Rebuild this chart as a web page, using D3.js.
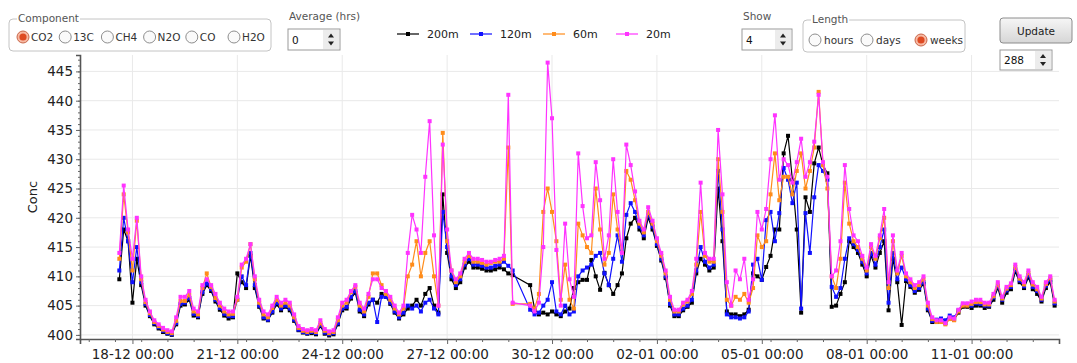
<!DOCTYPE html>
<html>
<head>
<meta charset="utf-8">
<script src="https://cdn.jsdelivr.net/npm/d3@7"></script>
<style>
  body { margin: 0; background: #fff; }
  svg text { font-family: "DejaVu Sans", Verdana, sans-serif; }
</style>
</head>
<body>
<svg id="chart"></svg>
<script>
const width = 1077, height = 363;

// samples every 3 hours from 17-12 15:00; null = no data
const startTime = new Date(2016, 11, 17, 15);
const stepHours = 3;

const conc200m = [
  409.5, 418, 416,
  405.5, 413, 408.5, 405, 403.2, 401.8, 401.1, 400.5,
  400.2, 400, 401.8, 405, 405.2, 406, 403.3, 403,
  407, 408.5, 407.5, 405.7, 404.3, 403.3, 402.8, 403,
  410.5, 409, 408, 413.5, 408, 404.8, 402.8, 402.5,
  403.8, 405.2, 404.2, 404.8, 404.2, 402.4, 400.8, 400.4,
  400.2, 400.3, 400.1, 401.5, 400.2, 399.9, 400.1, 401.8,
  404.2, 404.5, 406.2, 407.2, 404, 403.2, 405.2, 406,
  405.5, 407, 406.5, 405.3, 403.8, 402.8, 403.5, 404.5,
  405, 406, 405, 407, 408, 405, 403.8, 424,
  414, 409.5, 408, 409, 411.5, 412.5, 411.5, 411.5,
  411.3, 411, 411, 411.2, 411.5, 411.2, 410.5, 410.2,
  null, null, null, 408.5, 404.5, 403.5, 403.8, 403.5,
  404, 403.5, 403.2, 404, 404.5, 408, 409, 409.4,
  409.4, 412.8, 410, 407.7, 410.6, 408.5, 407, 408.5,
  410.5, 416.5, 419, 420, 418, 416.5, 420, 418,
  415.2, 412.7, 409.7, 405, 403.2, 403.2, 404.2, 404.8,
  405.5, 410.5, 413, 412, 411, 411.5, 425, 416,
  404, 403.5, 403.5, 403.2, 403.5, 404.3, 410.5, 410,
  409.4, 411.6, 413.5, 418, 418, 431, 434, 426.5,
  418, 403.8, 423.5, 421, 429.3, 432, 429, 427.6,
  404.8, 405, 407, 409, 416, 415, 414, 412,
  410, 413.5, 411.5, 414, 416, 404.2, 413, 409,
  401.7, 409.2, 408.2, 407.2, 407.7, 408.7, 404.2, 402.2,
  402.2, 402.3, 402, 402.8, 402.6, 403.8, 404.8, 404.8,
  404.6, 405, 405, 404.6, 404.8, 406, 408, 405.5,
  407.2, 407.8, 410.8, 409, 408, 409.8, 407.8, 407,
  405.7, 408, 409, 405
];

const conc120m = [
  411, 420, 416,
  409, 415, 409, 405.3, 403.4, 402, 401.3, 400.7,
  400.3, 400.1, 402, 405.3, 405.5, 406.3, 403.6, 403.2,
  407.3, 408.8, 407.8, 406, 404.6, 403.6, 403.2, 403.2,
  406, 410, 408.5, 414, 408.5, 405, 403, 402.6,
  404, 405.5, 404.5, 405, 404.5, 402.6, 400.9, 400.5,
  400.3, 400.5, 400.3, 401.7, 400.4, 400.1, 400.3, 402,
  404.5, 404.8, 406.5, 407.5, 404.3, 403.5, 405.5, 406,
  402.2, 406.5, 406.5, 405.5, 404, 403, 403.8, 405,
  404.5, 405, 404, 405.5, 406, 404.5, 403.5, 421,
  415, 410, 408.5, 409.5, 412, 413, 412, 412,
  411.8, 411.5, 411.5, 411.8, 412, 412.5, 411.8, 411,
  null, null, null, 404.3, 403.5, 403.8, 405, 406,
  409, 404, 403.5, 405, 403.5, 404, 410, 411,
  411.5, 412, 413.5, 414, 410.5, 408.5, 413, 417,
  412.5, 420.5, 422.5, 421, 418.5, 417, 420.5, 418.5,
  415.5, 413, 410, 405.3, 403.5, 403.5, 404.5, 405,
  406, 411, 415, 412.5, 411.5, 412, 428, 418,
  403.5, 403, 403, 402.8, 403, 404, 412, 413,
  409.4, 419.6, 421, 416, 420.8, 428.5, 426.5, 422.5,
  426, 404.5, 420.8, 414, 423.5, 429, 428, 426.5,
  408.2, 406.5, 408, 413, 416.5, 415.5, 414.5, 412.5,
  410.5, 414, 412, 415, 418, 405.5, 414, 409.5,
  411.5, 409.5, 408.5, 407.5, 408, 409, 404.5, 402.4,
  402.6, 402.8, 402.5, 403.3, 403, 404.2, 405.2, 405.2,
  405, 405.4, 405.3, 405, 405, 406.4, 408.3, 406,
  407.6, 408.2, 411.2, 409.3, 408.3, 410.2, 408.2, 407.5,
  406, 408.4, 409.4, 405.4
];

const conc60m = [
  413, 424, 417.5,
  411, 419.5, 409.5, 405.6, 403.7, 402.2, 401.5, 400.9,
  400.5, 400.3, 402.4, 405.8, 405.8, 406.8, 404, 403.5,
  408, 410.5, 408.2, 406.3, 405, 404, 403.5, 403.6,
  406, 411.5, 412.5, 415.5, 409.5, 405.5, 403.5, 403,
  404.6, 406, 405, 405.5, 405, 403, 401.2, 400.7,
  400.5, 400.7, 400.5, 402, 400.7, 400.3, 400.5, 402.5,
  405, 405.5, 407.3, 408.2, 405, 404, 406.5, 410.5,
  410.5, 408.5, 407, 406, 404.5, 403.5, 404.5, 410,
  412, 416, 410, 414, 416, 410, 405, 434.5,
  416, 411, 409, 410, 412.5, 413.5, 412.5, 412.5,
  412.3, 412, 412.3, 412.5, 412.5, 413, 432, 405.3,
  null, null, null, 405.3, 404.5, 407, 421, 425,
  421, 416, 406, 412, 406, 404.5, 419, 417,
  415, 414, 425, 418, 412, 414, 424, 418,
  414, 428, 426.5, 423, 419, 417.5, 421, 419,
  416, 413.5, 410.5, 406, 404, 404, 405.2, 405.7,
  407, 412, 421, 413.5, 412.5, 412.5, 430, 421,
  406, 405, 406.5, 406, 407, 405.5, 408, 417,
  415, 416, 424, 431, 423, 427, 427, 424,
  428, 431, 425, 428, 432, 441.5, 429, 425,
  410, 408, 413, 426, 419, 416, 415, 413,
  411, 415, 413, 416.5, 420, 408, 416, 410.5,
  413.5, 410, 409, 408, 408.5, 409.5, 405, 402.7,
  402.2, 402.2, 401.8, 402.7, 402.5, 404, 405, 405,
  405.3, 405.6, 405.6, 405.2, 405.2, 406.6, 408.6, 406.2,
  407.9, 408.5, 411.6, 409.6, 408.6, 410.6, 408.6, 407.8,
  406.2, 408.7, 409.7, 405.7
];

const conc20m = [
  414, 425.5, 418,
  413, 420, 410, 406, 404, 402.5, 401.8, 401.2,
  400.8, 400.6, 403, 406.5, 406.5, 407.5, 404.5, 404,
  408.5, 409.5, 408.5, 407, 405.5, 404.5, 404, 404,
  406.5, 412, 413, 415.5, 410, 406, 404, 403.5,
  405, 406.5, 405.5, 406, 405.5, 403.5, 401.5, 401,
  400.8, 401, 400.8, 402.5, 401, 400.6, 400.8, 403,
  405.5, 406, 407.5, 408.5, 405.5, 404.5, 407, 409.5,
  409.5, 408, 407.5, 406.5, 405, 403.8, 405, 414,
  420.5, 418, 414, 427, 436.5, 417, 405, 432.5,
  418, 411, 409.5, 410.5, 413, 414, 413, 413,
  412.8, 412.5, 412.5, 412.8, 413, 413.5, 441, 405.5,
  null, null, null, 405, 404, 405.5, 415, 446.5,
  437, 414.5, 405, 419, 409.5, 406.5, 431, 422,
  416.5, 417, 429.5, 423, 413, 417, 430, 421,
  414, 432.5, 429, 424.5, 419.5, 418, 421.8, 419.5,
  416.5, 414, 411, 406.5, 404.3, 404.3, 405.5, 406,
  407.5, 413, 426, 414, 413, 413, 435, 424,
  409, 405, 411, 409.5, 413, 406, 409.5, 421,
  418, 421.5, 430, 437.5, 426.5, 430, 429, 426,
  429.5, 433.5, 427, 429.5, 433, 441, 429.5, 427,
  410, 411, 416, 429, 421.5, 417, 416, 413.5,
  411.5, 415.5, 413.5, 417, 421.5, 409, 417, 411,
  414, 410.5, 409.5, 408.5, 409, 410, 405.5, 403,
  402.5, 402.5, 402, 403, 402.8, 404.3, 405.4, 405.4,
  405.7, 406, 406, 405.5, 405.5, 407, 409, 406.5,
  408.2, 408.8, 412, 410, 409, 411, 409, 408.2,
  406.5, 409, 410, 406
];

const seriesNames = ["200m", "120m", "60m", "20m"];
const seriesColors = ["#000000", "#1010ff", "#ff8c1a", "#ff33ff"];
const seriesValues = [conc200m, conc120m, conc60m, conc20m];

const yTicks = [400, 405, 410, 415, 420, 425, 430, 435, 440, 445];
const xTickDates = ["2016-12-18", "2016-12-21", "2016-12-24", "2016-12-27", "2016-12-30",
                    "2017-01-02", "2017-01-05", "2017-01-08", "2017-01-11"];

const components = ["CO2", "13C", "CH4", "N2O", "CO", "H2O"];
const lengthOptions = ["hours", "days", "weeks"];

const svg = d3.select("#chart")
    .attr("width", width)
    .attr("height", height);

const plot = { left: 80, right: 1059, top: 55, bottom: 339 };

const x = d3.scaleTime()
    .domain([new Date(2016, 11, 16, 12), new Date(2017, 0, 13, 12)])
    .range([plot.left, plot.right]);

const y = d3.scaleLinear()
    .domain([399.3, 447.8])
    .range([plot.bottom, plot.top]);

const parseDay = d3.timeParse("%Y-%m-%d");
const xTicks = xTickDates.map(parseDay);
const timeAt = i => d3.timeHour.offset(startTime, i * stepHours);

// grid
svg.append("g")
    .selectAll("line")
    .data(yTicks)
    .join("line")
    .attr("x1", plot.left).attr("x2", plot.right)
    .attr("y1", d => y(d)).attr("y2", d => y(d))
    .attr("stroke", "#e9e9e9");

svg.append("g")
    .selectAll("line")
    .data(xTicks)
    .join("line")
    .attr("x1", d => x(d)).attr("x2", d => x(d))
    .attr("y1", plot.top).attr("y2", plot.bottom)
    .attr("stroke", "#e9e9e9");

// series: lines + small square markers
const line = d3.line()
    .x(d => x(d.t))
    .y(d => y(d.v));

const mk = 4;
seriesValues.forEach((vals, k) => {
    const pts = vals.map((v, i) => ({ t: timeAt(i), v: v })).filter(d => d.v !== null);
    const g = svg.append("g").attr("class", "series-" + seriesNames[k]);
    g.append("path")
        .datum(pts)
        .attr("fill", "none")
        .attr("stroke", seriesColors[k])
        .attr("stroke-width", 1.2)
        .attr("d", line);
    g.selectAll("rect")
        .data(pts)
        .join("rect")
        .attr("x", d => x(d.t) - mk / 2)
        .attr("y", d => y(d.v) - mk / 2)
        .attr("width", mk)
        .attr("height", mk)
        .attr("fill", seriesColors[k]);
});

// axes
const xAxis = svg.append("g")
    .attr("transform", `translate(0,${plot.bottom})`)
    .call(d3.axisBottom(x)
        .tickValues(xTicks)
        .tickFormat(d3.timeFormat("%d-%m %H:%M"))
        .tickSize(5)
        .tickPadding(5));

svg.append("g")
    .attr("transform", `translate(0,${plot.bottom})`)
    .call(d3.axisBottom(x)
        .tickValues(d3.timeHour.range(new Date(2016, 11, 16, 18), x.domain()[1], 18))
        .tickFormat("")
        .tickSize(3))
    .call(g => g.select(".domain").remove());

const yAxis = svg.append("g")
    .attr("transform", `translate(${plot.left},0)`)
    .call(d3.axisLeft(y)
        .tickValues(yTicks)
        .tickSize(4)
        .tickPadding(3));

svg.append("g")
    .attr("transform", `translate(${plot.left},0)`)
    .call(d3.axisLeft(y)
        .tickValues(d3.range(400, 448, 1))
        .tickFormat("")
        .tickSize(2))
    .call(g => g.select(".domain").remove());

svg.selectAll(".domain").attr("stroke", "#555").attr("stroke-width", 1.6);
svg.selectAll(".tick line").attr("stroke", "#666");
xAxis.selectAll("text").attr("font-size", 13.5).attr("fill", "#222");
yAxis.selectAll("text").attr("font-size", 13.5).attr("fill", "#222");

svg.append("text")
    .attr("transform", "translate(37,197) rotate(-90)")
    .attr("text-anchor", "middle")
    .attr("font-size", 13)
    .attr("fill", "#222")
    .text("Conc");

// ---- top controls ----
const uiText = "#333";

function groupBox(x0, y0, w, h, label) {
    const g = svg.append("g");
    g.append("rect")
        .attr("x", x0).attr("y", y0).attr("width", w).attr("height", h)
        .attr("rx", 4)
        .attr("fill", "none").attr("stroke", "#c4c4c4");
    const t = g.append("text")
        .attr("x", x0 + 9).attr("y", y0 + 3)
        .attr("font-size", 10.5).attr("fill", "#555")
        .text(label);
    const bb = t.node().getBBox();
    g.insert("rect", "text")
        .attr("x", bb.x - 1).attr("y", bb.y).attr("width", bb.width + 2).attr("height", bb.height)
        .attr("fill", "#fff");
    return g;
}

function radio(g, cx, cy, checked) {
    g.append("circle")
        .attr("cx", cx).attr("cy", cy).attr("r", 6)
        .attr("fill", checked ? "#f7b9a3" : "#fafafa")
        .attr("stroke", checked ? "#c9674a" : "#8e8e8e");
    if (checked) {
        g.append("circle")
            .attr("cx", cx).attr("cy", cy).attr("r", 3.6)
            .attr("fill", "#de4a22");
    }
}

function spinBox(x0, y0, w, h, value) {
    const g = svg.append("g");
    g.append("rect")
        .attr("x", x0).attr("y", y0).attr("width", w).attr("height", h)
        .attr("fill", "#fff").attr("stroke", "#9a9a9a");
    g.append("rect")
        .attr("x", x0 + w - 17).attr("y", y0 + 1).attr("width", 16).attr("height", h - 2)
        .attr("fill", "#ececec");
    const bx = x0 + w - 9, my = y0 + h / 2;
    g.append("path")
        .attr("d", `M${bx - 3},${my - 2}L${bx + 3},${my - 2}L${bx},${my - 6}Z M${bx - 3},${my + 2}L${bx + 3},${my + 2}L${bx},${my + 6}Z`)
        .attr("fill", "#222");
    g.append("text")
        .attr("x", x0 + 4).attr("y", y0 + h / 2 + 4)
        .attr("font-size", 10.5).attr("fill", "#111")
        .text(value);
}

// Component group
const compBox = groupBox(9, 19, 262, 32, "Component");
const compX = d3.scalePoint().domain(components).range([23, 234]);
components.forEach((c, i) => {
    radio(compBox, compX(c), 37, i === 0);
    compBox.append("text")
        .attr("x", compX(c) + 8).attr("y", 41)
        .attr("font-size", 10.5).attr("fill", uiText)
        .text(c);
});

// Average
svg.append("text").attr("x", 289).attr("y", 20).attr("font-size", 10.5).attr("fill", "#555").text("Average (hrs)");
spinBox(288, 29, 52, 21, "0");

// Legend
const legendX = d3.scalePoint().domain(seriesNames).range([397, 616]);
const legend = svg.append("g");
seriesNames.forEach((n, k) => {
    const lx = legendX(n);
    legend.append("line")
        .attr("x1", lx).attr("x2", lx + 22).attr("y1", 34).attr("y2", 34)
        .attr("stroke", seriesColors[k]).attr("stroke-width", 1.2);
    legend.append("rect")
        .attr("x", lx + 9).attr("y", 32).attr("width", mk).attr("height", mk)
        .attr("fill", seriesColors[k]);
    legend.append("text")
        .attr("x", lx + 30).attr("y", 38)
        .attr("font-size", 11).attr("fill", "#222")
        .text(n);
});

// Show
svg.append("text").attr("x", 743).attr("y", 20).attr("font-size", 10.5).attr("fill", "#555").text("Show");
spinBox(742, 29, 50, 21, "4");

// Length group
const lenBox = groupBox(803, 20, 162, 32, "Length");
const lenX = [815, 867, 921];
lengthOptions.forEach((o, i) => {
    radio(lenBox, lenX[i], 40, i === 2);
    lenBox.append("text")
        .attr("x", lenX[i] + 9).attr("y", 44)
        .attr("font-size", 10.5).attr("fill", uiText)
        .text(o);
});

// Update button
const grad = svg.append("defs").append("linearGradient")
    .attr("id", "btn").attr("x1", 0).attr("y1", 0).attr("x2", 0).attr("y2", 1);
grad.append("stop").attr("offset", "0%").attr("stop-color", "#f6f6f6");
grad.append("stop").attr("offset", "100%").attr("stop-color", "#d6d6d6");
svg.append("rect")
    .attr("x", 1000).attr("y", 18).attr("width", 72).attr("height", 25).attr("rx", 3)
    .attr("fill", "url(#btn)").attr("stroke", "#8c8c8c");
svg.append("text")
    .attr("x", 1036).attr("y", 34.5).attr("text-anchor", "middle")
    .attr("font-size", 10.5).attr("fill", "#222")
    .text("Update");
spinBox(1000, 50, 52, 20, "288");
</script>
</body>
</html>
